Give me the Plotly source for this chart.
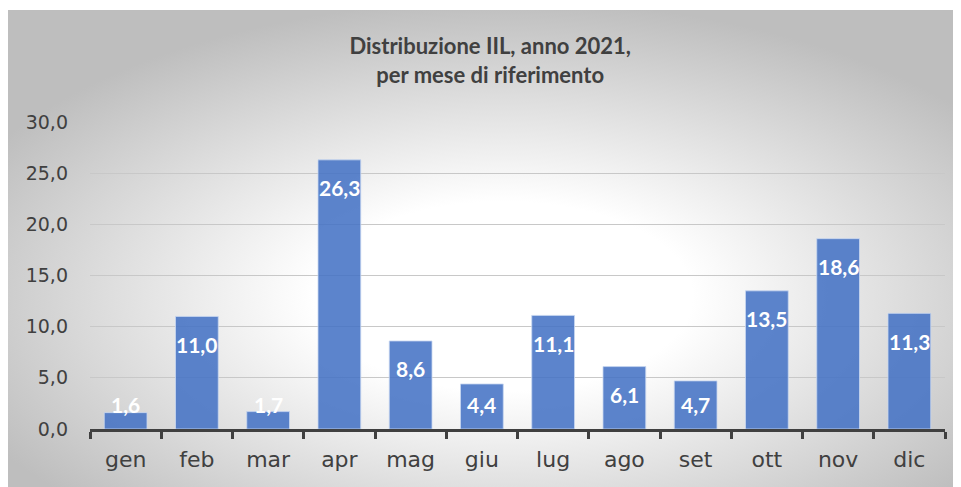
import base64
import plotly.graph_objects as go

months = ["gen", "feb", "mar", "apr", "mag", "giu", "lug", "ago", "set", "ott", "nov", "dic"]
values = [1.6, 11.0, 1.7, 26.3, 8.6, 4.4, 11.1, 6.1, 4.7, 13.5, 18.6, 11.3]
labels = ["1,6", "11,0", "1,7", "26,3", "8,6", "4,4", "11,1", "6,1", "4,7", "13,5", "18,6", "11,3"]
yticks = [0, 5, 10, 15, 20, 25, 30]
ytick_text = ["0,0", "5,0", "10,0", "15,0", "20,0", "25,0", "30,0"]
title_text = "<b>Distribuzione IIL, anno 2021,<br>per mese di riferimento</b>"

# page is offset by the browser's 8px body margin
W, H = 953, 479
L, R, T, B = 82, 16, 114, 58
pw, ph = W - L - R, H - T - B

svg = """<svg xmlns='http://www.w3.org/2000/svg' width='953' height='477' preserveAspectRatio='none'>
<defs><radialGradient id='g' cx='0.52' cy='0.6' r='0.62' fx='0.52' fy='0.6'>
<stop offset='0' stop-color='#ffffff'/>
<stop offset='0.32' stop-color='#ffffff'/>
<stop offset='1' stop-color='#bebebe'/>
</radialGradient></defs>
<rect width='953' height='477' fill='url(#g)'/></svg>"""
src = "data:image/svg+xml;base64," + base64.b64encode(svg.encode()).decode()

fig = go.Figure()
fig.add_trace(go.Bar(
    x=months, y=values,
    marker=dict(color="rgba(68,114,196,0.87)", line=dict(color="rgba(200,215,240,0.8)", width=1)),
    hoverinfo="skip",
))

for m, v, t in zip(months, values, labels):
    fig.add_annotation(x=m, y=max(v, 5.1), text=f"<b>{t}</b>", showarrow=False,
                       yshift=-28, yanchor="middle",
                       font=dict(family="Lato", size=21, color="white"))

fig.add_layout_image(dict(
    source=src, xref="paper", yref="paper",
    x=(0 - L) / pw, y=(H - B - 2) / ph,
    sizex=953 / pw, sizey=477 / ph,
    sizing="stretch", xanchor="left", yanchor="top", layer="below",
))

fig.update_layout(
    width=W, height=H,
    margin=dict(l=L, r=R, t=T, b=B),
    paper_bgcolor="white", plot_bgcolor="rgba(0,0,0,0)",
    bargap=0.40, showlegend=False,
    title=dict(text=title_text, x=0.506, xanchor="center", y=1 - 46 / H, yanchor="middle",
               font=dict(family="Lato", size=22, color="#404040")),
    xaxis=dict(showline=True, linecolor="#404040", linewidth=3,
               ticks="outside", tickson="boundaries", ticklen=7, tickwidth=3, tickcolor="#404040",
               tickfont=dict(family="DejaVu Sans", size=22, color="#404040"),
               ticklabelstandoff=9, showgrid=False),
    yaxis=dict(range=[0, 30], tickvals=yticks, ticktext=ytick_text,
               tickfont=dict(family="DejaVu Sans", size=19, color="#404040"),
               showgrid=True, gridcolor="#c8c8c8", gridwidth=1, zeroline=False,
               ticks="", ticklabelstandoff=21),
)

fig.write_html("out.html")
